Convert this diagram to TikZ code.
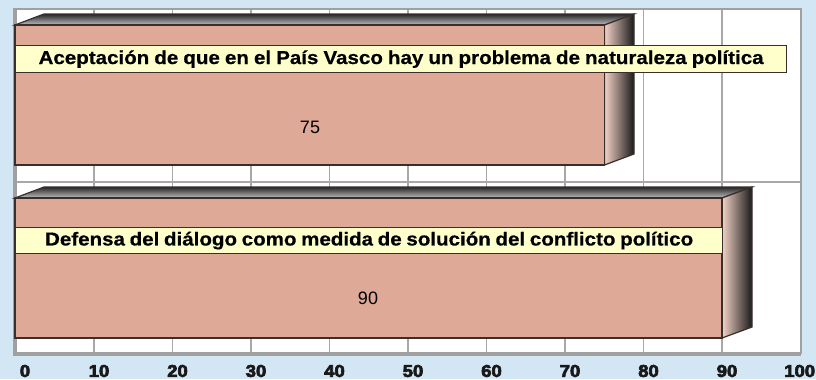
\documentclass[tikz,border=0pt]{standalone}
\usepackage{fontspec}
\setmainfont{Liberation Sans}
\newfontfamily\heavyfont{Liberation Sans Bold}[FakeBold=4, FakeStretch=1.08]
\newfontfamily\labelfont{Liberation Sans Bold}[FakeStretch=1.1, FakeBold=0.6]
\definecolor{bgblue}{HTML}{D3E6F4}
\definecolor{barface}{HTML}{DFA997}
\definecolor{barlight}{HTML}{F2D2C6}
\definecolor{baredge}{HTML}{3A2E2C}
\definecolor{labelfill}{HTML}{FFFFCC}
\definecolor{gridc}{HTML}{A8A8A8}
\definecolor{framec}{HTML}{A0A0A0}
\tikzset{
  face/.style={fill=barface, draw=baredge, line width=0.9pt},
  sideface/.style={left color=barlight, right color=black!90, draw=baredge, line width=0.9pt},
  topface/.style={top color=black!85, bottom color=black!25, draw=baredge, line width=0.9pt},
  labelbox/.style={draw=baredge, fill=labelfill, line width=0.9pt, inner sep=0pt, anchor=north west,
    font=\fontsize{14}{16}\labelfont},
  valuelbl/.style={font=\fontsize{13.5}{15}\selectfont},
  axislbl/.style={font=\fontsize{12.8}{14}\heavyfont, text=black!90}
}
\begin{document}
\begin{tikzpicture}[x=0.75pt,y=-0.75pt]
\useasboundingbox (0,0) rectangle (816,379);
\fill[bgblue] (0,0) rectangle (816,379);
\fill[white] (15,9) rectangle (801,354);
% grid
\foreach \k in {1,...,9}
  \draw[gridc, line width=1.3pt] ({15.5+78.5*\k},9) -- ({15.5+78.5*\k},354);
\draw[gridc, line width=1.3pt] (15,182) -- (801,182);
% frame
\draw[framec, line width=1.5pt] (15,9) -- (801,9) -- (801,354);
\draw[framec, line width=2.4pt] (15,8) -- (15,354) -- (801,354);
% top bar (75)
\path[topface] (15,25) -- (44,14) -- (634,14) -- (604.5,25) -- cycle;
\path[sideface] (604.5,25) -- (634,14) -- (634,154) -- (604.5,165) -- cycle;
\path[face] (15,25) rectangle (604.5,165);
% bottom bar (90)
\path[topface] (15,198) -- (44,187) -- (752,187) -- (722,198) -- cycle;
\path[sideface] (722,198) -- (752,187) -- (752,327) -- (722,338) -- cycle;
\path[face] (15,198) rectangle (722,338);
% labels
\node[labelbox, minimum width=578.25pt, minimum height=20.25pt] (lab1) at (15,45)
  {\makebox[543.75pt][s]{Aceptación de que en el País Vasco hay un problema de naturaleza política}};
\node[labelbox, minimum width=530.25pt, minimum height=19.5pt] (lab2) at (15,227)
  {\makebox[486pt][s]{Defensa del diálogo como medida de solución del conflicto político}};
\node[valuelbl] (v1) at (310,127) {75};
\node[valuelbl] (v2) at (368,298) {90};
% axis labels
\node[axislbl] (a0) at (25,371) {0};
\foreach \k/\t in {1/10,2/20,3/30,4/40,5/50,6/60,7/70,8/80,9/90}
  \node[axislbl] (a\k) at ({20.5+78.5*\k},371) {\t};
\node[axislbl, anchor=east, inner xsep=0.5pt] (a10) at (816,371) {100};
\end{tikzpicture}
\end{document}
